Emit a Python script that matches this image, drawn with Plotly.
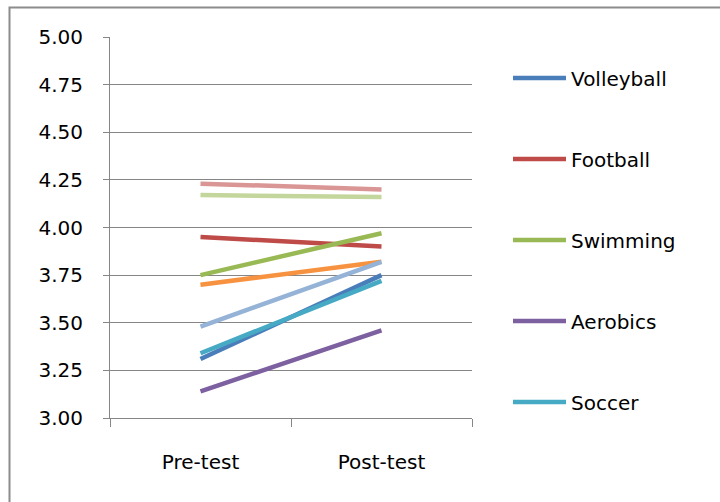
import plotly.graph_objects as go

# Test phases on the category axis
phases = ["Pre-test", "Post-test"]

# Mean scores per group (pre, post)
volleyball = [3.31, 3.75]
football = [3.95, 3.90]
swimming = [3.75, 3.97]
aerobics = [3.14, 3.46]
soccer = [3.34, 3.72]
series6 = [3.70, 3.82]
series7 = [3.48, 3.82]
series8 = [4.23, 4.20]
series9 = [4.17, 4.16]

y_ticks = [3.00, 3.25, 3.50, 3.75, 4.00, 4.25, 4.50, 4.75, 5.00]

series = [
    ("Volleyball", volleyball, "#4A7EBB", True),
    ("Football", football, "#BE4B48", True),
    ("Swimming", swimming, "#98B954", True),
    ("Aerobics", aerobics, "#7D60A0", True),
    ("Soccer", soccer, "#46AAC5", True),
    ("Series 6", series6, "#F69240", False),
    ("Series 7", series7, "#95B3D7", False),
    ("Series 8", series8, "#D99694", False),
    ("Series 9", series9, "#C3D69B", False),
]

fig = go.Figure()
for i, (name, vals, color, shown) in enumerate(series):
    fig.add_trace(go.Scatter(
        x=phases, y=vals, name=name, mode="lines",
        line=dict(color=color, width=4.5),
        showlegend=shown, legendgroup=f"g{i}",
    ))

W, H = 720, 502
L, R, T, B = 110, 248, 37, 84
pw, ph = W - L - R, H - T - B

# Outer chart frame (open to the right and bottom edges of the page)
fx0 = (9.5 - L) / pw
fx1 = (W + 10 - L) / pw
fy1 = (H - B - 7.5) / ph
fy0 = (H - B - (H + 10)) / ph
fig.add_shape(type="rect", xref="paper", yref="paper",
              x0=fx0, x1=fx1, y0=fy0, y1=fy1,
              line=dict(color="#8C8C8C", width=2), layer="below")

fig.update_layout(
    width=W, height=H,
    margin=dict(l=L, r=R, t=T, b=B, pad=0),
    paper_bgcolor="white", plot_bgcolor="white",
    font=dict(family="DejaVu Sans", size=20, color="#000000"),
    showlegend=True,
    legend=dict(
        x=(508 - L) / pw, xanchor="left",
        y=(H - B - 58.5) / ph, yanchor="top",
        traceorder="grouped", tracegroupgap=52,
        itemwidth=53, font=dict(size=20),
        bgcolor="rgba(0,0,0,0)",
    ),
)

fig.update_xaxes(
    type="category", range=[-0.5, 1.5],
    showline=True, linecolor="#868686", linewidth=1,
    ticks="outside", tickson="boundaries", ticklen=8, tickcolor="#868686",
    showgrid=False, zeroline=False,
    ticklabelstandoff=26,
)
fig.update_yaxes(
    range=[3.0, 5.0], tickvals=y_ticks,
    ticktext=[f"{v:.2f}" for v in y_ticks],
    showline=True, linecolor="#868686", linewidth=1,
    ticks="outside", ticklen=6, tickcolor="#868686",
    showgrid=True, gridcolor="#868686", gridwidth=1,
    zeroline=False, ticklabelstandoff=16,
)

fig.write_html("out.html")
